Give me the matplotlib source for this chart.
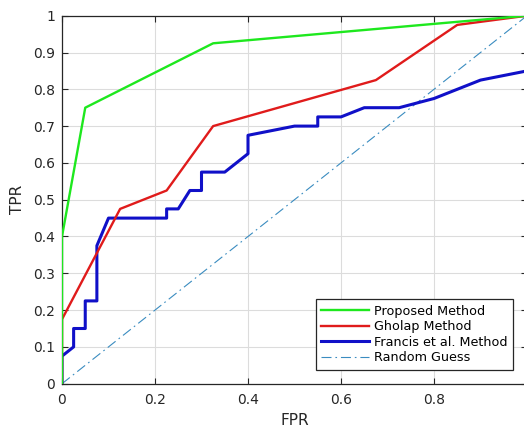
import matplotlib
matplotlib.use("Agg")
import matplotlib.pyplot as plt

# Data
prop_fpr = [0, 0, 0.05, 0.325, 1.0]
prop_tpr = [0, 0.4, 0.75, 0.925, 1.0]

gholap_fpr = [0, 0, 0.125, 0.225, 0.325, 0.675, 0.85, 1.0]
gholap_tpr = [0, 0.175, 0.475, 0.525, 0.70, 0.825, 0.975, 1.0]

francis_fpr = [0, 0, 0.025, 0.025, 0.05, 0.05, 0.075, 0.075, 0.10, 0.225, 0.225, 0.25,
               0.275, 0.30, 0.30, 0.35, 0.40, 0.40, 0.50, 0.55, 0.55, 0.60, 0.65, 0.725,
               0.80, 0.90, 1.0]
francis_tpr = [0, 0.075, 0.10, 0.15, 0.15, 0.225, 0.225, 0.375, 0.45, 0.45, 0.475, 0.475,
               0.525, 0.525, 0.575, 0.575, 0.625, 0.675, 0.70, 0.70, 0.725, 0.725, 0.75, 0.75,
               0.775, 0.825, 0.85]

rand_x = [0, 1]
rand_y = [0, 1]

labels = ["Proposed Method", "Gholap Method", "Francis et al. Method", "Random Guess"]
xticks = [0, 0.2, 0.4, 0.6, 0.8, 1]
yticks = [0, 0.1, 0.2, 0.3, 0.4, 0.5, 0.6, 0.7, 0.8, 0.9, 1]

fig = plt.figure(figsize=(5.24, 4.30), dpi=100)
ax = fig.add_axes([62/524, (430-383.7)/430, 465/524, 368/430])

ax.plot(prop_fpr, prop_tpr, color="#1ee81e", lw=1.7, label=labels[0], zorder=4)
ax.plot(gholap_fpr, gholap_tpr, color="#e01b1b", lw=1.7, label=labels[1], zorder=3)
ax.plot(francis_fpr, francis_tpr, color="#1010c8", lw=2.2, label=labels[2], zorder=2)
ax.plot(rand_x, rand_y, color="#3a8cc0", lw=0.8, ls=(0, (9, 3.5, 1.5, 3.5)),
        label=labels[3], zorder=1)

ax.set_xlim(0, 1)
ax.set_ylim(0, 1)
ax.set_xticks(xticks)
ax.set_yticks(yticks)
ax.set_xticklabels(["0", "0.2", "0.4", "0.6", "0.8", "1"])
ax.set_yticklabels(["0", "0.1", "0.2", "0.3", "0.4", "0.5", "0.6", "0.7", "0.8", "0.9", "1"])
ax.grid(True, color="#dcdcdc", lw=0.8)
ax.set_axisbelow(True)
ax.tick_params(direction="in", length=4, width=0.8, top=True, right=True,
               labelsize=10, labelcolor="#262626", color="#262626")
ax.tick_params(axis="x", pad=7)
ax.tick_params(axis="y", pad=5)
for s in ax.spines.values():
    s.set_color("#262626")
    s.set_linewidth(0.9)

ax.set_xlabel("FPR", fontsize=11, color="#262626", labelpad=4)
ax.set_ylabel("TPR", fontsize=11, color="#262626", labelpad=6)

leg = ax.legend(loc="lower right", bbox_to_anchor=(0.97, 0.037), fontsize=9.2,
                frameon=True, fancybox=False, edgecolor="#262626", framealpha=1,
                handlelength=3.7, handletextpad=0.4, borderpad=0.45, labelspacing=0.2,
                borderaxespad=0)
leg.get_frame().set_linewidth(0.9)

fig.savefig("out.png", dpi=100)
